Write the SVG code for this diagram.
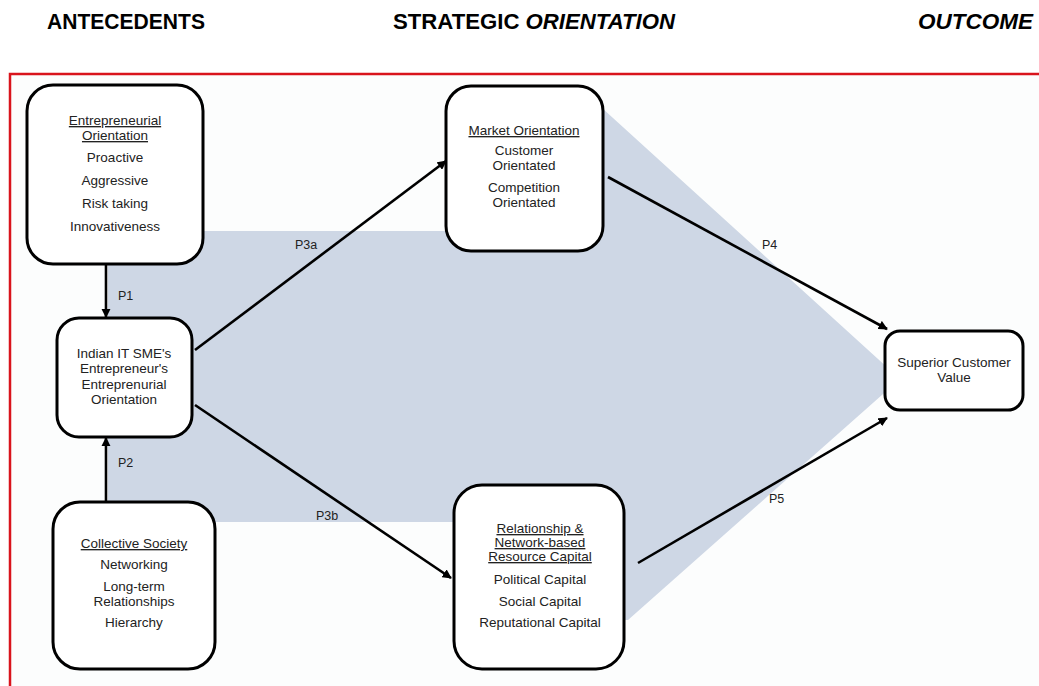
<svg xmlns="http://www.w3.org/2000/svg" width="1039" height="686" viewBox="0 0 1039 686">
<style>
.hdr{font-family:"Liberation Sans",Arial,sans-serif;font-weight:bold;font-size:22px;fill:#000}
.t{font-family:"Liberation Sans",Arial,sans-serif;font-size:13.5px;fill:#222;text-anchor:middle}
.u{text-decoration:underline}
.box{fill:#fff;stroke:#000;stroke-width:3}
.con{stroke:#000;stroke-width:2.6;fill:none}
.lbl{font-family:"Liberation Sans",Arial,sans-serif;font-size:12.5px;fill:#222}
</style>
<defs>
<marker id="ah" viewBox="0 0 10 10" refX="9" refY="5" markerWidth="3.6" markerHeight="3.6" orient="auto" markerUnits="strokeWidth">
<path d="M0,0 L10,5 L0,10 z" fill="#000"/>
</marker>
</defs>
<rect width="1039" height="686" fill="#fff"/>
<g id="headers">
<text class="hdr" x="47" y="29" textLength="158" lengthAdjust="spacingAndGlyphs">ANTECEDENTS</text>
<text class="hdr" x="393" y="29" textLength="282" lengthAdjust="spacingAndGlyphs">STRATEGIC <tspan font-style="italic">ORIENTATION</tspan></text>
<text class="hdr" x="918" y="29" font-style="italic" textLength="115" lengthAdjust="spacingAndGlyphs">OUTCOME</text>
</g>
<rect id="frame" x="10" y="74" width="1040" height="630" fill="#fcfdfd" stroke="#d9141c" stroke-width="2.5"/>
<polygon id="shade" points="108,231 500,231 500,108 602,108 900,379 628,620 500,620 500,522 108,522" fill="#ced7e5"/>
<g id="connectors">
<line class="con" x1="106" y1="264" x2="106" y2="317" marker-end="url(#ah)"/>
<line class="con" x1="106" y1="502" x2="106" y2="438" marker-end="url(#ah)"/>
<line class="con" x1="195" y1="350" x2="446" y2="161" marker-end="url(#ah)"/>
<line class="con" x1="195" y1="405" x2="451" y2="578" marker-end="url(#ah)"/>
<line class="con" x1="608" y1="177" x2="887" y2="329" marker-end="url(#ah)"/>
<line class="con" x1="638" y1="563" x2="887" y2="418" marker-end="url(#ah)"/>
<text class="lbl" x="118" y="300">P1</text>
<text class="lbl" x="118" y="467">P2</text>
<text class="lbl" x="295" y="249">P3a</text>
<text class="lbl" x="316" y="520">P3b</text>
<text class="lbl" x="762" y="249">P4</text>
<text class="lbl" x="769" y="503">P5</text>
</g>
<g id="eo">
<rect class="box" x="27" y="85" width="176" height="179" rx="26"/>
<text class="t u" x="115" y="125">Entrepreneurial</text>
<text class="t u" x="115" y="140">Orientation</text>
<text class="t" x="115" y="162">Proactive</text>
<text class="t" x="115" y="185">Aggressive</text>
<text class="t" x="115" y="208">Risk taking</text>
<text class="t" x="115" y="231">Innovativeness</text>
</g>
<g id="indian">
<rect class="box" x="57" y="318" width="135" height="119" rx="22"/>
<text class="t" x="124" y="358">Indian IT SME's</text>
<text class="t" x="124" y="373">Entrepreneur's</text>
<text class="t" x="124" y="389">Entreprenurial</text>
<text class="t" x="124" y="404">Orientation</text>
</g>
<g id="collective">
<rect class="box" x="53" y="502" width="162" height="167" rx="27"/>
<text class="t u" x="134" y="548">Collective Society</text>
<text class="t" x="134" y="569">Networking</text>
<text class="t" x="134" y="591">Long-term</text>
<text class="t" x="134" y="606">Relationships</text>
<text class="t" x="134" y="627">Hierarchy</text>
</g>
<g id="market">
<rect class="box" x="446" y="86" width="157" height="165" rx="25"/>
<text class="t u" x="524" y="135">Market Orientation</text>
<text class="t" x="524" y="155">Customer</text>
<text class="t" x="524" y="170">Orientated</text>
<text class="t" x="524" y="192">Competition</text>
<text class="t" x="524" y="207">Orientated</text>
</g>
<g id="relationship">
<rect class="box" x="454" y="485" width="170" height="184" rx="28"/>
<text class="t u" x="540" y="533">Relationship &amp;</text>
<text class="t u" x="540" y="547">Network-based</text>
<text class="t u" x="540" y="561">Resource Capital</text>
<text class="t" x="540" y="584">Political Capital</text>
<text class="t" x="540" y="606">Social Capital</text>
<text class="t" x="540" y="627">Reputational Capital</text>
</g>
<g id="superior">
<rect class="box" x="885" y="331" width="138" height="79" rx="15"/>
<text class="t" x="954" y="367">Superior Customer</text>
<text class="t" x="954" y="382">Value</text>
</g>
</svg>
